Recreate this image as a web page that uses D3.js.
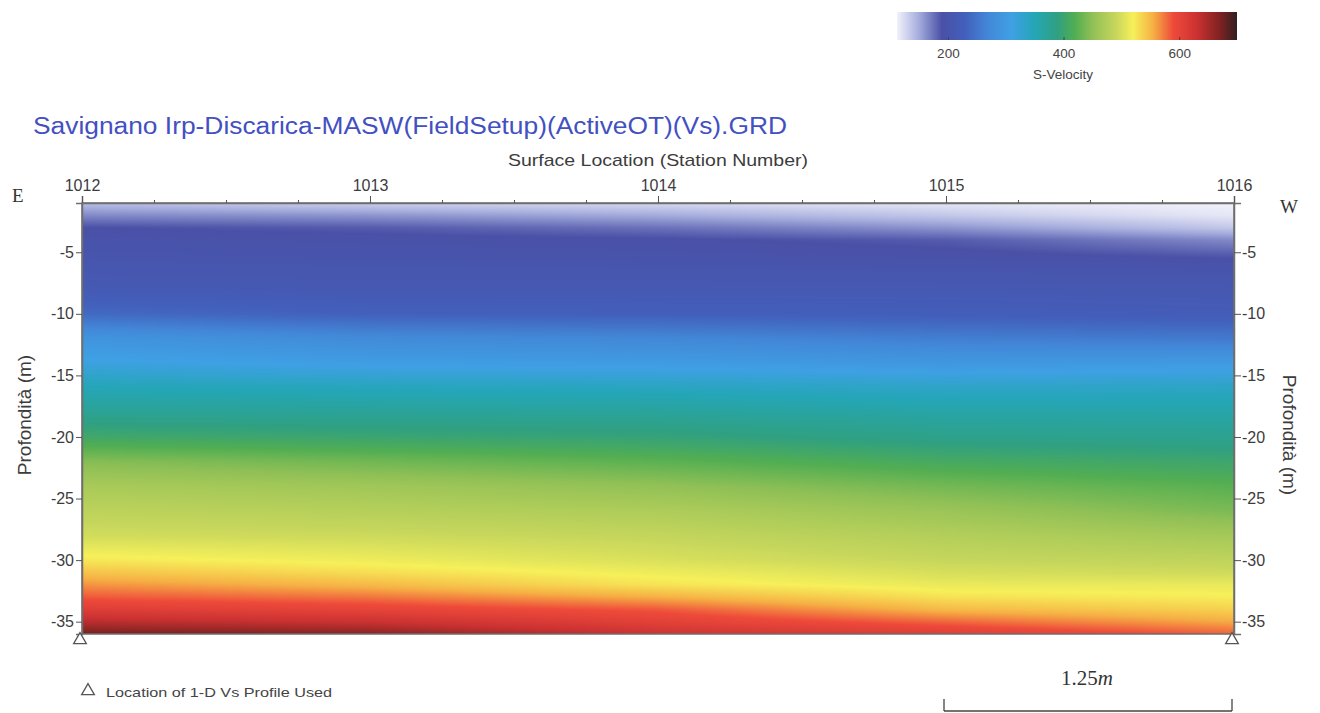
<!DOCTYPE html>
<html>
<head>
<meta charset="utf-8">
<script src="https://cdn.jsdelivr.net/npm/d3@7"></script>
<style>
  body { margin: 0; background: #fff; }
  svg { display: block; font-family: "Liberation Sans", Arial, sans-serif; }
</style>
</head>
<body>
<div id="chart"></div>
<script>
// stations along the line and the depths (m) where the Vs profiles were read
var stations = [1012, 1013, 1014, 1015, 1016];
var depths = [1, 2, 3, 4, 6, 8, 10, 12, 14, 16, 18, 20, 22, 24, 26, 28, 30, 31, 32, 33, 34, 35, 36];

// S-velocity (m/s) per station, one value per depth
var vs1012 = [140, 165, 190, 198, 205, 215, 240, 290, 315, 350, 375, 405, 445, 468, 483, 497, 525, 545, 565, 585, 610, 640, 675];
var vs1013 = [130, 160, 185, 195, 203, 212, 230, 275, 305, 345, 372, 400, 435, 462, 478, 494, 515, 530, 550, 575, 600, 630, 665];
var vs1014 = [125, 150, 175, 192, 202, 212, 228, 270, 302, 342, 370, 395, 425, 452, 472, 488, 502, 515, 527, 555, 585, 605, 628];
var vs1015 = [118, 135, 160, 185, 200, 212, 225, 260, 295, 335, 362, 382, 410, 436, 458, 476, 490, 500, 512, 528, 550, 580, 610];
var vs1016 = [112, 118, 135, 165, 198, 210, 220, 255, 300, 338, 360, 378, 402, 423, 440, 465, 485, 495, 512, 522, 537, 557, 582];
var profiles = [vs1012, vs1013, vs1014, vs1015, vs1016];

var stationTicks = [1012, 1013, 1014, 1015, 1016];
var depthTicks = [-5, -10, -15, -20, -25, -30, -35];
var velocityTicks = [200, 400, 600];
var profileStations = [1012, 1016];

// colour table of the velocity scale
var colorValues = [112, 150, 190, 230, 270, 310, 350, 390, 420, 450, 490, 520, 555, 590, 630, 670, 700];
var colorHex = ["#f2f2fb", "#a4acdc", "#4a50a6", "#4260bc", "#4288d8", "#3fa0e4", "#24a6b6", "#30a080",
                "#52ae52", "#90c056", "#c6d65c", "#f6f05a", "#f6b044", "#ee4a3a", "#cc3232", "#802222", "#302020"];

var svgWidth = 1320;
var svgHeight = 713;

var plot = { left: 82, right: 1234, top: 203, bottom: 634 };

var svg = d3.select("#chart")
  .append("svg")
  .attr("width", svgWidth)
  .attr("height", svgHeight);

var xScale = d3.scaleLinear().domain([1012, 1016]).range([plot.left, plot.right]);
var yScale = d3.scaleLinear().domain([-1, -36]).range([plot.top, plot.bottom]);
var color = d3.scaleLinear().domain(colorValues).range(colorHex).interpolate(d3.interpolateRgb).clamp(true);

// one piecewise-linear depth -> velocity scale per station
var profileScales = profiles.map(function(p) {
  return d3.scaleLinear().domain(depths).range(p).clamp(true);
});
var stationIndex = d3.scaleLinear().domain(stations).range(d3.range(stations.length)).clamp(true);

// paint the velocity section on a canvas, then put it into the svg
var w = plot.right - plot.left;
var h = plot.bottom - plot.top;
var canvas = document.createElement("canvas");
canvas.width = w;
canvas.height = h;
var ctx = canvas.getContext("2d");
var img = ctx.createImageData(w, h);
for (var j = 0; j < h; j++) {
  var depth = -yScale.invert(plot.top + j + 0.5);
  var col = profileScales.map(function(s) { return s(depth); });
  for (var i = 0; i < w; i++) {
    var k = stationIndex(xScale.invert(plot.left + i + 0.5));
    var k0 = Math.min(Math.floor(k), stations.length - 2);
    var t = k - k0;
    var v = col[k0] * (1 - t) + col[k0 + 1] * t;
    var c = d3.rgb(color(v));
    var idx = (j * w + i) * 4;
    img.data[idx] = c.r;
    img.data[idx + 1] = c.g;
    img.data[idx + 2] = c.b;
    img.data[idx + 3] = 255;
  }
}
ctx.putImageData(img, 0, 0);

svg.append("image")
  .attr("x", plot.left)
  .attr("y", plot.top)
  .attr("width", w)
  .attr("height", h)
  .attr("preserveAspectRatio", "none")
  .attr("href", canvas.toDataURL());

// frame
svg.append("rect")
  .attr("x", plot.left)
  .attr("y", plot.top)
  .attr("width", w)
  .attr("height", h)
  .attr("fill", "none")
  .attr("stroke", "#6e6e6e")
  .attr("stroke-width", 1.5);

// top axis (station numbers), minor ticks every quarter station
svg.append("g")
  .attr("transform", `translate(0, ${plot.top})`)
  .call(d3.axisTop(xScale).tickValues(d3.range(1012, 1016.01, 0.25)).tickFormat("").tickSize(3))
  .call(g => g.select(".domain").remove());
var topAxis = svg.append("g")
  .attr("transform", `translate(0, ${plot.top})`)
  .call(d3.axisTop(xScale).tickValues(stationTicks).tickFormat(d3.format("d")).tickSize(7).tickPadding(5));

// left and right depth axes (plain hyphen for the minus sign, as in the source)
var depthFormat = d => String(d);
var leftAxis = svg.append("g")
  .attr("transform", `translate(${plot.left}, 0)`)
  .call(d3.axisLeft(yScale).tickValues(depthTicks).tickFormat(depthFormat).tickSize(6).tickPadding(2));
var rightAxis = svg.append("g")
  .attr("transform", `translate(${plot.right}, 0)`)
  .call(d3.axisRight(yScale).tickValues(depthTicks).tickFormat(depthFormat).tickSize(7).tickPadding(1));

svg.selectAll(".domain").attr("stroke", "#6e6e6e").attr("stroke-width", 1.5);
svg.selectAll(".tick line").attr("stroke", "#555");
svg.selectAll(".tick text")
  .attr("fill", "#3c3c3c")
  .style("font-size", "16px")
  .style("font-family", "'Liberation Sans', Arial, sans-serif");

// titles
svg.append("text")
  .attr("x", 33)
  .attr("y", 134)
  .attr("fill", "#4350c2")
  .style("font-size", "23px")
  .attr("textLength", 754)
  .attr("lengthAdjust", "spacingAndGlyphs")
  .text("Savignano Irp-Discarica-MASW(FieldSetup)(ActiveOT)(Vs).GRD");

svg.append("text")
  .attr("x", 658)
  .attr("y", 166)
  .attr("text-anchor", "middle")
  .attr("fill", "#3c3c3c")
  .style("font-size", "17px")
  .attr("textLength", 300)
  .attr("lengthAdjust", "spacingAndGlyphs")
  .text("Surface Location (Station Number)");

svg.append("text")
  .attr("transform", "translate(31, 415) rotate(-90)")
  .attr("text-anchor", "middle")
  .attr("fill", "#3c3c3c")
  .style("font-size", "19px")
  .text("Profondità (m)");

svg.append("text")
  .attr("transform", "translate(1283, 435) rotate(90)")
  .attr("text-anchor", "middle")
  .attr("fill", "#3c3c3c")
  .style("font-size", "19px")
  .text("Profondità (m)");

// E / W orientation
svg.append("text")
  .attr("x", 12)
  .attr("y", 202)
  .attr("fill", "#333")
  .style("font-family", "'Liberation Serif', 'Times New Roman', serif")
  .style("font-size", "19px")
  .text("E");
svg.append("text")
  .attr("x", 1280)
  .attr("y", 213)
  .attr("fill", "#333")
  .style("font-family", "'Liberation Serif', 'Times New Roman', serif")
  .style("font-size", "19px")
  .text("W");

// triangles: location of the 1-D profiles
var tri = d3.symbol().type(d3.symbolTriangle).size(70);
svg.selectAll(".profile")
  .data(profileStations)
  .enter()
  .append("path")
  .attr("class", "profile")
  .attr("d", tri)
  .attr("transform", d => `translate(${xScale(d) - 2}, ${plot.bottom + 6})`)
  .attr("fill", "#fff")
  .attr("stroke", "#555")
  .attr("stroke-width", 1.3);

// legend
svg.append("path")
  .attr("d", tri)
  .attr("transform", "translate(88, 691)")
  .attr("fill", "#fff")
  .attr("stroke", "#555")
  .attr("stroke-width", 1.3);
svg.append("text")
  .attr("x", 106)
  .attr("y", 697)
  .attr("fill", "#444")
  .style("font-size", "13.5px")
  .attr("textLength", 226)
  .attr("lengthAdjust", "spacingAndGlyphs")
  .text("Location of 1-D Vs Profile Used");

// scale bar: one station spacing = 1.25 m
var barY = 711;
var bar = svg.append("g").attr("stroke", "#444").attr("stroke-width", 1.3).attr("fill", "none");
bar.append("line").attr("x1", xScale(1015) - 2).attr("x2", xScale(1016) - 2).attr("y1", barY).attr("y2", barY);
bar.append("line").attr("x1", xScale(1015) - 2).attr("x2", xScale(1015) - 2).attr("y1", barY).attr("y2", barY - 12);
bar.append("line").attr("x1", xScale(1016) - 2).attr("x2", xScale(1016) - 2).attr("y1", barY).attr("y2", barY - 12);
var barLabel = svg.append("text")
  .attr("x", (xScale(1015) + xScale(1016)) / 2 - 3)
  .attr("y", 685)
  .attr("text-anchor", "middle")
  .attr("fill", "#333")
  .style("font-family", "'Liberation Serif', 'Times New Roman', serif")
  .style("font-size", "21px");
barLabel.append("tspan").text("1.25");
barLabel.append("tspan").style("font-style", "italic").text("m");

// colour bar
var cbScale = d3.scaleLinear().domain([112, 700]).range([897, 1237]);
var cbTop = 12, cbHeight = 28;
var grad = svg.append("defs").append("linearGradient")
  .attr("id", "vsGrad")
  .attr("x1", "0%").attr("x2", "100%").attr("y1", "0%").attr("y2", "0%");
grad.selectAll("stop")
  .data(colorValues)
  .enter()
  .append("stop")
  .attr("offset", d => (cbScale(d) - 897) / (1237 - 897))
  .attr("stop-color", (d, i) => colorHex[i]);

svg.append("rect")
  .attr("x", 897)
  .attr("y", cbTop)
  .attr("width", 1237 - 897)
  .attr("height", cbHeight)
  .attr("fill", "url(#vsGrad)");

var cbAxis = svg.append("g")
  .attr("transform", `translate(0, ${cbTop + cbHeight})`)
  .call(d3.axisBottom(cbScale).tickValues(velocityTicks).tickSize(-3).tickPadding(8));
cbAxis.select(".domain").remove();
cbAxis.selectAll(".tick line").attr("stroke", "#444");
cbAxis.selectAll(".tick text")
  .attr("fill", "#444")
  .style("font-size", "13.5px")
  .style("font-family", "'Liberation Sans', Arial, sans-serif");

svg.append("text")
  .attr("x", 1063)
  .attr("y", 79)
  .attr("text-anchor", "middle")
  .attr("fill", "#444")
  .style("font-size", "13.5px")
  .text("S-Velocity");
</script>
</body>
</html>
